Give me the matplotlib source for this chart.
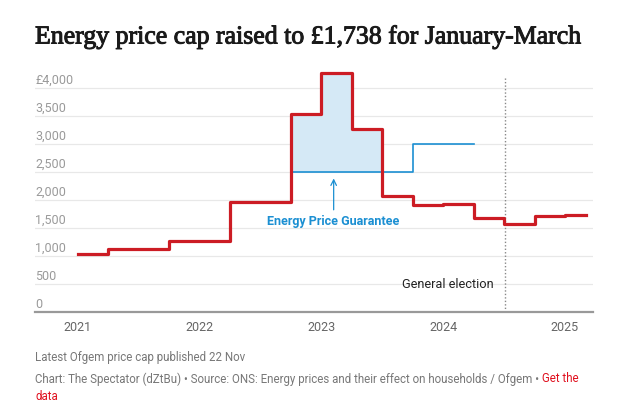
import matplotlib
matplotlib.use("Agg")
import matplotlib.pyplot as plt
import matplotlib.transforms as mtransforms
import matplotlib.patheffects as pe

# ==========================================
# DATA
# ==========================================
# price cap periods (decimal years, start of each period) and typical annual bill in £
cap_x = [2021.0, 2021.25, 2021.75, 2022.25, 2022.75, 2023.0, 2023.25, 2023.5,
         2023.75, 2024.0, 2024.25, 2024.5, 2024.75, 2025.0, 2025.17]
cap_y = [1042, 1138, 1277, 1971, 3549, 4279, 3280, 2074,
         1923, 1928, 1690, 1568, 1717, 1738, 1738]

# Energy Price Guarantee
epg_x = [2022.75, 2023.75, 2024.25]
epg_y = [2500, 3000, 3000]

election_x = 2024.51
years = [2021, 2022, 2023, 2024, 2025]
y_ticks = [0, 500, 1000, 1500, 2000, 2500, 3000, 3500, 4000]
y_labels = ["0", "500", "1,000", "1,500", "2,000", "2,500", "3,000", "3,500", "£4,000"]

# ==========================================
# STYLE
# ==========================================
RED = "#cc1c24"
BLUE = "#1b8fd2"
FILL = "#d5e9f6"
GRID = "#e8e8e8"
GREY = "#9a9a9a"
SANS = ["Roboto", "DejaVu Sans"]

W, H = 617, 413
fig = plt.figure(figsize=(W / 100, H / 100), dpi=100)

# axes placed in pixel terms
left, right = 35, 593
bottom, top = 312.3, 71.5
ax = fig.add_axes([left / W, (H - bottom) / H, (right - left) / W, (bottom - top) / H])
ax.set_xlim(2020.647, 2025.23)
ax.set_ylim(0, 4300)

for s in ["top", "right", "left"]:
    ax.spines[s].set_visible(False)
ax.spines["bottom"].set_color("#999999")
ax.spines["bottom"].set_linewidth(1.6)

# gridlines + labels sitting above them
for v, lab in zip(y_ticks, y_labels):
    if v > 0:
        ax.axhline(v, color=GRID, lw=0.9, zorder=0)
    ax.annotate(lab, (0, v), xycoords=mtransforms.blended_transform_factory(ax.transAxes, ax.transData),
                xytext=(0, 1), textcoords="offset points", ha="left", va="bottom",
                fontsize=9, color=GREY, family=SANS)
ax.set_yticks([])

ax.set_xticks(years)
ax.set_xticklabels([str(y) for y in years], family=SANS, fontsize=9, color="#666666")
ax.tick_params(axis="x", length=0, pad=6)

# shaded gap between cap and guarantee
ax.fill_between(cap_x[4:8], cap_y[4:8], epg_y[0], step="post", color=FILL, lw=0, zorder=1)

ax.step(epg_x, epg_y, where="post", color=BLUE, lw=1.2, zorder=2)
ax.step(cap_x, cap_y, where="post", color=RED, lw=2.3, zorder=3, clip_on=False)

# election marker
ax.plot([election_x, election_x], [0, 4220], color="#888888", lw=1, ls=(0, (1, 1.5)), zorder=2)
ax.text(election_x - 0.1, 505, "General election", ha="right", va="center",
        fontsize=9.2, color="#222222", family=SANS)

# EPG annotation
ax.annotate("", xy=(2023.1, 2390), xytext=(2023.1, 1830),
            arrowprops=dict(arrowstyle="->", color=BLUE, lw=0.9, shrinkA=0, shrinkB=0))
ax.text(2023.1, 1630, "Energy Price Guarantee", ha="center", va="center",
        fontsize=9, color=BLUE, family=SANS, fontweight="bold")

# ==========================================
# TITLE + FOOTER
# ==========================================
fig.text(left / W, 1 - 37 / H, "Energy price cap raised to £1,738 for January-March",
         ha="left", va="center", fontsize=18.6, family=["Liberation Serif", "DejaVu Serif"],
         color="#1a1a1a", path_effects=[pe.withStroke(linewidth=0.7, foreground="#1a1a1a")])

fig.text(left / W, 1 - 358 / H, "Latest Ofgem price cap published 22 Nov",
         ha="left", va="center", fontsize=8.3, color="#777777", family=SANS)
src = fig.text(left / W, 1 - 379 / H,
               "Chart: The Spectator (dZtBu) \u2022 Source: ONS: Energy prices and their effect on households / Ofgem \u2022 ",
               ha="left", va="center", fontsize=8.3, color="#777777", family=SANS)
fig.canvas.draw()
bb = src.get_window_extent()
fig.text(bb.x1 / W, 1 - 379 / H, "Get the", ha="left", va="center",
         fontsize=8.3, color="#e0101e", family=SANS)
fig.text(left / W, 1 - 396 / H, "data", ha="left", va="center",
         fontsize=8.3, color="#e0101e", family=SANS)

fig.savefig("out.png", dpi=100, facecolor="white")
